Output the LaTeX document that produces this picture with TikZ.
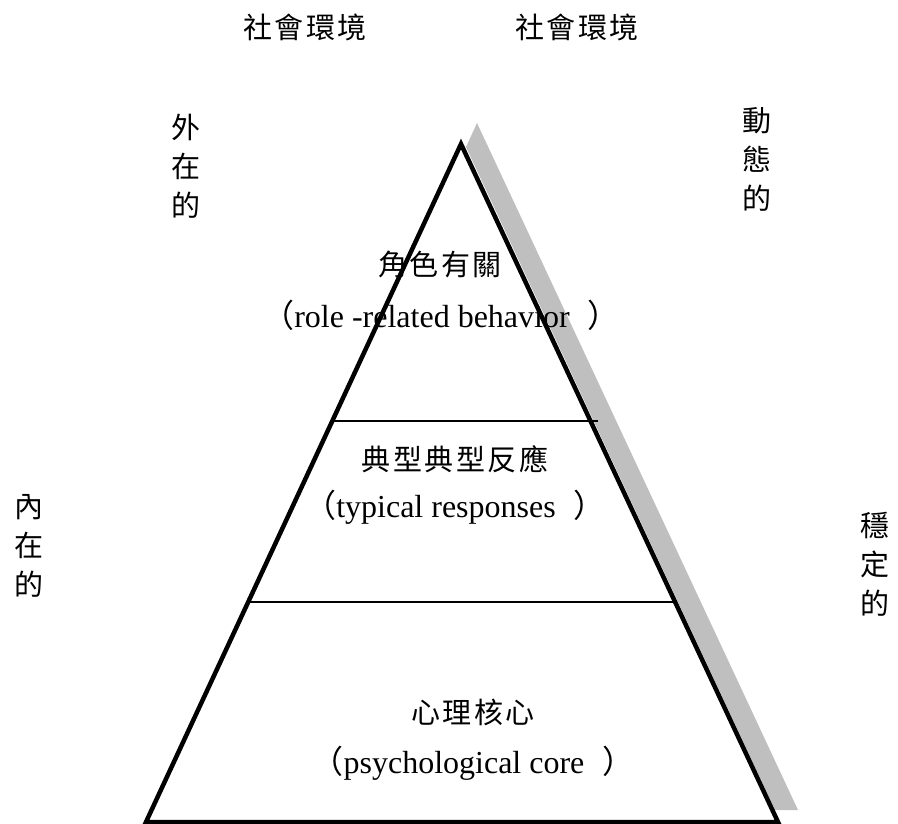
\documentclass[tikz,border=0pt]{standalone}
\usepackage{fontspec}
\setmainfont{Liberation Serif}
\newfontfamily\cjk[LetterSpace=9]{Noto Sans CJK TC}
\usetikzlibrary{positioning}

\begin{document}
\begin{tikzpicture}[x=1pt, y=-1pt,
    zh/.style={font=\cjk\fontsize{29}{39}\selectfont, inner sep=0pt},
    en/.style={font=\fontsize{32}{39}\selectfont, inner sep=0pt},
    side/.style={zh, align=center}]
    \useasboundingbox (0,0) rectangle (898,824);
    \coordinate (apex) at (461,144);
    \coordinate (bl) at (146,822);
    \coordinate (br) at (778,822);
    \coordinate (sapex) at (477,123);
    \fill[gray!50] (sapex) -- (798,810) -- (775,810) -- (466,147) -- cycle;
    \draw[line width=4.5pt, fill=white] (apex) -- (bl) -- (br) -- cycle;
    \coordinate (l1a) at (332,421); \coordinate (l1b) at (598,421);
    \coordinate (l2a) at (248,602); \coordinate (l2b) at (675,602);
    \draw[line width=2pt] (l1a) -- (l1b);
    \draw[line width=2pt] (l2a) -- (l2b);

    \node[zh] (soc1) at (305,27) {社會環境};
    \node[zh] (soc2) at (577,27) {社會環境};
    \node[side] (ext) at (186,166) {外\\在\\的};
    \node[side] (dyn) at (757,159) {動\\態\\的};
    \node[side] (int) at (29,546) {內\\在\\的};
    \node[side] (stb) at (875,564) {穩\\定\\的};

    \node[zh] (role) at (440,265) {角色有關};
    \node[en] (roleen) at (441,315) {{\cjk （}role -related behavior\hspace{18pt}{\cjk ）}};
    \node[zh] (typ) at (455,459) {典型典型反應};
    \node[en] (typen) at (455,507) {{\cjk （}typical responses\hspace{18pt}{\cjk ）}};
    \node[zh] (core) at (473,712) {心理核心};
    \node[en] (coreen) at (473,763) {{\cjk （}psychological core\hspace{18pt}{\cjk ）}};
\end{tikzpicture}
\end{document}
